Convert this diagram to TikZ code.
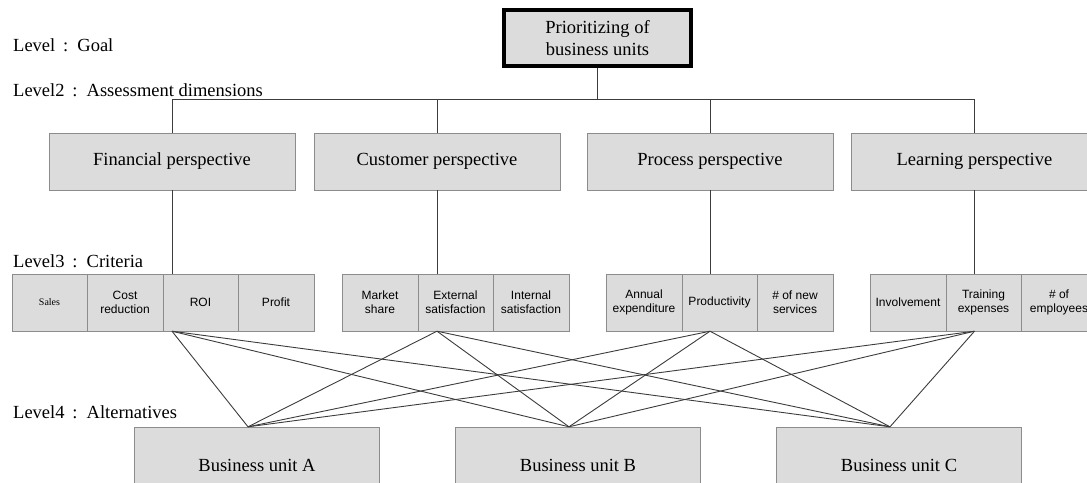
\documentclass[tikz,border=0pt]{standalone}
\usepackage{fontspec}
\setmainfont{Liberation Serif}
\setsansfont{Liberation Sans}
\definecolor{boxfill}{HTML}{DCDCDC}
\definecolor{boxline}{HTML}{8C8C8C}
\definecolor{linegray}{HTML}{3C3C3C}
\tikzset{
  goalbox/.style={draw=black, line width=3.5pt, fill=boxfill, minimum width=187pt,
    minimum height=56pt, inner sep=0pt, align=center, font=\fontsize{18.5}{22}\selectfont},
  dimbox/.style={draw=boxline, fill=boxfill, minimum width=246pt, minimum height=57pt,
    inner sep=0pt, font=\fontsize{18.5}{22}\selectfont},
  critbox/.style={draw=boxline, fill=boxfill, minimum width=75.5pt, minimum height=57pt,
    inner sep=0pt, align=center, font=\sffamily\fontsize{12}{14}\selectfont},
  altbox/.style={draw=boxline, fill=boxfill, minimum width=245pt, minimum height=76pt,
    inner sep=0pt, font=\fontsize{18.5}{22}\selectfont},
  levellabel/.style={anchor=base west, inner sep=0pt, font=\fontsize{18.5}{22}\selectfont},
  link/.style={draw=linegray, line width=0.9pt}
}
\begin{document}
\begin{tikzpicture}[x=1pt, y=-1pt]
    \clip (0,0) rectangle (1087,482);

    % Levels
    \node[levellabel] (lvgoal) at (13,51) {Level\ \,:\, Goal};
    \node[levellabel] (lvdim) at (13,96) {Level2\ \,:\, Assessment dimensions};
    \node[levellabel] (lvcrit) at (13,267) {Level3\ \,:\, Criteria};
    \node[levellabel] (lvalt) at (13,418) {Level4\ \,:\, Alternatives};

    % Goal
    \node[goalbox] (goal) at (597.5,38) {Prioritizing of\\business units};

    % Assessment dimensions
    \foreach \name/\x/\txt in {fin/172/Financial, cus/437/Customer, pro/710/Process, lea/974.5/Learning} {
        \node[dimbox] (\name) at (\x,161.5) {\txt\ perspective};
        \draw[link] (goal.south) -- ++(0,32) -| (\name.north);
    }

    % Criteria
    \foreach \name/\x/\txt in {
        sal/49.5/{\rmfamily\fontsize{10}{11}\selectfont Sales},
        cst/125/{Cost\\reduction},
        roi/200.5/ROI,
        prf/276/Profit,
        mkt/380/{Market\\share},
        ext/455.5/{External\\satisfaction},
        int/531/{Internal\\satisfaction},
        ann/644/{Annual\\expenditure},
        prd/719.5/Productivity,
        srv/795/{\# of new\\services},
        inv/908/Involvement,
        trn/983.5/{Training\\expenses},
        emp/1059/{\# of\\employees}}
        \node[critbox] (\name) at (\x,302.5) {\txt};

    \foreach \p/\c in {fin/roi, cus/ext, pro/prd, lea/trn}
        \draw[link] (\p.south) -- (\p.south |- \c.north);

    % Alternatives
    \node[altbox] (bua) at (257,465) {Business unit A};
    \node[altbox] (bub) at (578,465) {Business unit B};
    \node[altbox] (buc) at (899,465) {Business unit C};

    \foreach \p/\c in {fin/roi, cus/ext, pro/prd, lea/trn}
        \foreach \a in {bua,bub,buc}
            \draw[link] (\c.south -| \p.south) -- ([xshift=-9pt]\a.north);
\end{tikzpicture}
\end{document}
